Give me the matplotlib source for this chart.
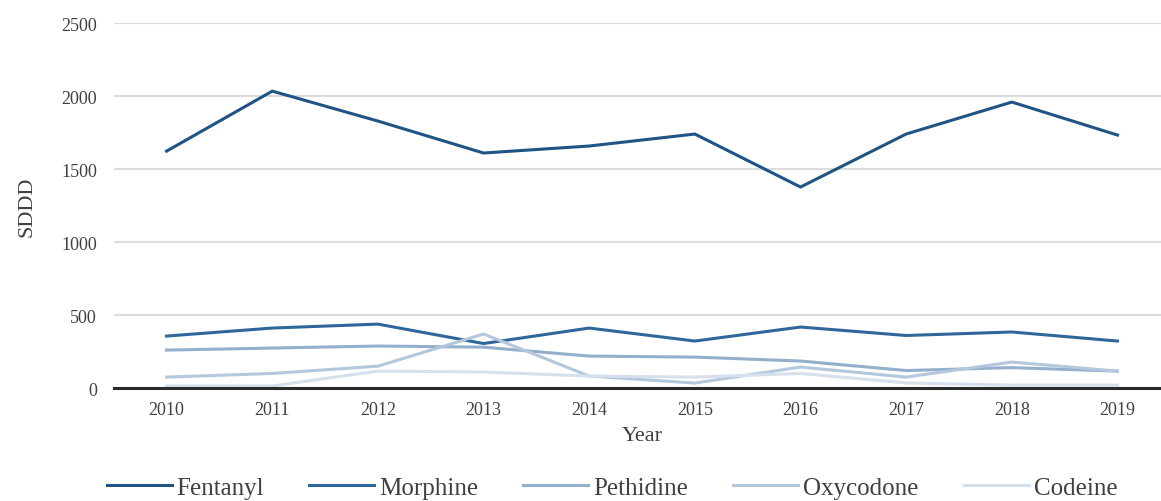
#!/usr/bin/env python3
"""
SDDD of opioids by year, 2010-2019.
"""

import matplotlib
matplotlib.use('Agg')
import matplotlib.pyplot as plt

years = [2010, 2011, 2012, 2013, 2014, 2015, 2016, 2017, 2018, 2019]

fentanyl = [1623, 2034, 1829, 1610, 1658, 1740, 1377, 1740, 1959, 1733]
morphine = [356, 411, 438, 305, 411, 322, 418, 360, 384, 322]
pethidine = [260, 274, 288, 280, 219, 212, 185, 120, 140, 116]
oxycodone = [75, 100, 150, 370, 82, 34, 144, 75, 178, 116]
codeine = [14, 14, 116, 110, 82, 75, 100, 35, 20, 20]

series_names = ["Fentanyl", "Morphine", "Pethidine", "Oxycodone", "Codeine"]
series_values = [fentanyl, morphine, pethidine, oxycodone, codeine]
colors = ["#1f5485", "#30679a", "#93afcc", "#b3c7dd", "#d5e0ec"]

plt.rcParams['font.family'] = ['Liberation Serif', 'DejaVu Serif']

fig = plt.figure(figsize=(11.61, 5.02), dpi=100)
ax = fig.add_axes([0.098, 0.225, 0.910, 0.727])

x = list(range(len(years)))
for name, vals, c in zip(series_names, series_values, colors):
    ax.plot(x, vals, color=c, linewidth=2.2, label=name, solid_joinstyle='round')

ax.set_xlim(-0.5, len(years) - 0.5)
ax.set_ylim(0, 2500)
ax.set_yticks([0, 500, 1000, 1500, 2000, 2500])
ax.set_xticks(x)
ax.set_xticklabels([str(y) for y in years])

ax.grid(axis='y', color='#dcdcdc', linewidth=1.5)
ax.set_axisbelow(True)
for side in ['top', 'right', 'left']:
    ax.spines[side].set_visible(False)
ax.spines['bottom'].set_color('#2b2b2b')
ax.spines['bottom'].set_linewidth(2.2)
ax.spines['bottom'].set_zorder(5)

ax.tick_params(axis='y', length=0, pad=12, labelsize=13, labelcolor='#404040')
ax.tick_params(axis='x', length=0, pad=9, labelsize=13, labelcolor='#404040')

ax.set_xlabel('Year', fontsize=16, color='#404040', labelpad=6)
ax.set_ylabel('SDDD', fontsize=16, color='#404040', labelpad=18)

fig.legend(loc='center', bbox_to_anchor=(0.527, 0.026), ncol=5, frameon=False,
           fontsize=18, handlelength=2.6, handletextpad=0.2, columnspacing=1.8,
           labelcolor='#404040')

plt.savefig('out.png', dpi=100)
plt.close()
